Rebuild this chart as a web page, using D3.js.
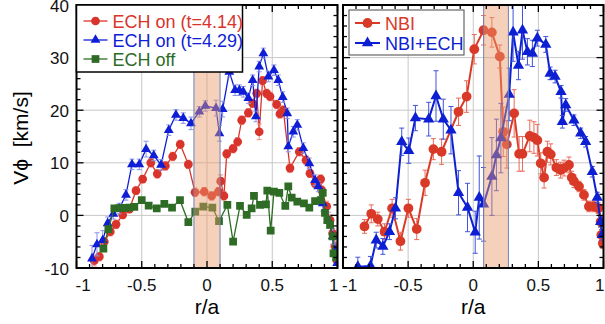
<html lang="en">
<head>
<meta charset="utf-8">
<script src="https://cdn.jsdelivr.net/npm/d3@7"></script>
<style type="text/css">
  body { margin: 0; background: #fff; }
  text { font-family: "Liberation Sans", Arial, Helvetica, sans-serif; }
  .grid { stroke: #c8c8c8; stroke-width: 1; }
  .frame { fill: none; stroke: #000; stroke-width: 2; }
  .tick { stroke: #000; stroke-width: 1.3; }
  .ticklabel { font-size: 17px; fill: #111; }
</style>
</head>
<body>
<div id="chart"></div>
<script type="text/javascript">

// ---- left panel : ECH on / off ----
var echOnAX = [-0.864,-0.825,-0.787,-0.741,-0.697,-0.646,-0.595,-0.544,-0.493,-0.431,-0.381,-0.319,-0.263,-0.205,-0.143,-0.092,-0.021,0.036,0.087,0.105,0.13,0.151,0.2,0.235,0.266,0.317,0.35,0.381,0.4,0.426,0.457,0.483,0.534,0.559,0.585,0.636,0.707,0.759,0.789,0.828,0.871,0.879,0.917,0.943,0.963,0.98,0.994];
var echOnAY = [-8.6,-7.85,-5.0,-3.1,-1.7,0.1,1.2,4.7,6.9,10.0,7.9,9.4,11.2,13.5,9.7,4.4,4.5,3.7,4.5,6.5,3.7,11.7,12.7,14.0,18.1,19.5,21.3,23.2,15.9,25.6,23.2,22.6,21.1,19.3,20.0,9.0,12.1,10.5,8.0,6.1,6.9,4.8,1.7,-0.9,-3.4,-5.9,-8.5];
var echOnAErr = [1.0,0.8,0.8,0.8,0.8,0.7,0.7,0.7,0.7,0.8,0.8,0.8,0.8,0.8,0.8,0.8,0.8,0.8,0.8,1.2,0.8,0.8,0.8,0.8,0.8,0.8,0.8,0.8,1.5,0.8,0.8,0.8,0.8,0.8,0.8,0.8,0.8,0.8,0.8,0.8,0.8,0.8,1.0,1.0,1.0,1.0,1.0];

var echOnBX = [-0.881,-0.843,-0.799,-0.761,-0.718,-0.672,-0.621,-0.575,-0.519,-0.467,-0.408,-0.352,-0.293,-0.238,-0.182,-0.123,-0.059,-0.013,0.069,0.095,0.12,0.171,0.215,0.248,0.278,0.317,0.35,0.375,0.4,0.432,0.47,0.513,0.546,0.58,0.615,0.623,0.661,0.692,0.738,0.784,0.828,0.853,0.887,0.93,0.963,0.98,0.998];
var echOnBY = [-8.2,-5.5,-4.7,-1.5,0.3,1.3,3.9,9.7,9.7,12.6,11.4,9.6,16.2,19.1,18.5,17.5,19.7,20.8,20.4,15.6,20.2,27.3,23.8,23.8,23.5,22.3,25.7,18.8,28.3,30.8,26.4,27.6,25.7,22.5,19.4,13.1,15.9,17.2,12.8,9.9,6.7,5.5,2.3,-0.9,-4.0,-6.6,-9.1];
var echOnBErr = [2.5,2.2,1.8,1.2,1.0,1.0,1.0,1.0,1.0,1.5,1.0,1.0,1.0,1.0,1.0,1.2,1.0,1.0,1.5,1.5,1.5,1.0,1.0,1.0,1.0,1.0,1.0,1.0,1.0,1.0,1.0,1.0,1.0,1.0,1.0,1.0,1.0,1.0,1.0,1.0,1.0,1.0,1.5,1.5,1.5,1.5,1.5];

var echOffX = [-0.794,-0.756,-0.71,-0.672,-0.634,-0.595,-0.557,-0.5,-0.447,-0.385,-0.327,-0.268,-0.207,-0.143,-0.09,-0.028,0.041,0.092,0.156,0.2,0.253,0.304,0.342,0.36,0.406,0.452,0.462,0.488,0.513,0.554,0.6,0.623,0.649,0.692,0.743,0.784,0.828,0.871,0.887,0.904,0.922,0.943,0.963,0.969,0.99];
var echOffY = [-6.3,-2.6,1.35,1.4,1.45,1.5,1.6,2.9,1.85,1.35,2.2,1.5,2.9,-1.3,0.7,1.65,1.5,-1.1,2.0,-5.0,1.8,0.1,1.35,3.7,2.0,2.1,4.7,-2.9,4.5,4.3,1.8,5.5,3.4,2.6,2.3,1.5,2.7,2.9,4.3,0.5,-0.9,-1.8,-4.0,-7.2,-8.0];

// ---- right panel : NBI / NBI+ECH ----
var nbiX = [-0.835,-0.783,-0.733,-0.681,-0.623,-0.559,-0.498,-0.434,-0.37,-0.306,-0.243,-0.113,-0.051,0.008,0.079,0.143,0.204,0.23,0.258,0.314,0.352,0.378,0.434,0.466,0.492,0.518,0.544,0.569,0.595,0.638,0.671,0.697,0.735,0.756,0.773,0.812,0.85,0.888,0.926,0.96,0.978,0.983,0.995];
var nbiY = [-2.1,0.3,-0.7,-3.1,1.35,-4.9,1.35,-2.6,6.2,12.6,12.1,19.7,22.6,31.6,35.2,34.8,30.2,15.9,13.5,19.4,11.7,11.7,15.1,14.8,14.3,9.9,7.2,12.1,11.6,9.1,8.6,9.0,9.6,7.2,6.5,5.5,3.9,1.7,1.7,1.35,-1.2,-3.7,-5.3];
var nbiErr = [1.3,1.7,1.3,1.5,1.7,1.7,1.7,2.0,2.4,2.0,2.4,2.6,3.0,2.8,2.8,2.8,2.2,4.7,4.5,4.5,3.3,3.3,3.0,3.0,3.0,2.0,2.0,2.0,2.0,1.5,1.5,1.5,1.5,1.2,1.2,1.0,1.0,1.0,1.0,1.0,1.0,1.0,1.0];

var nbiEchX = [-0.886,-0.789,-0.745,-0.694,-0.643,-0.597,-0.549,-0.495,-0.444,-0.342,-0.286,-0.23,-0.171,-0.113,-0.044,0.015,0.046,0.079,0.143,0.178,0.212,0.276,0.306,0.347,0.378,0.416,0.454,0.492,0.557,0.59,0.628,0.674,0.684,0.71,0.773,0.825,0.863,0.914,0.952,0.978,0.99];
var nbiEchY = [-9.75,-9.6,-4.7,-5.9,-3.1,1.35,14.0,12.3,18.5,18.3,22.7,18.3,16.2,4.3,1.5,-3.2,3.4,2.1,7.4,11.5,14.7,23.0,34.8,28.5,35.2,31.1,30.8,33.7,32.5,27.0,26.4,23.5,17.8,21.0,18.1,15.6,14.0,8.3,3.4,-1.2,-3.7];
var nbiEchErr = [1.8,1.8,1.5,1.5,1.5,2.0,2.6,2.4,2.4,3.2,4.8,3.8,4.5,4.2,4.6,4.0,7.9,7.0,7.4,6.8,6.6,5.0,5.5,2.7,5.5,2.5,2.5,1.5,1.5,1.2,1.2,1.2,1.2,1.2,1.0,1.0,1.0,1.0,1.0,1.0,1.0];

var xTicks = [-1, -0.5, 0, 0.5, 1];
var xTickLabels = ["-1", "-0.5", "0", "0.5", "1"];
var yTicks = [-10, 0, 10, 20, 30, 40];

var width = 605, height = 324;
var svg = d3.select("#chart").append("svg")
    .attr("width", width)
    .attr("height", height);

var y = d3.scaleLinear().domain([-10, 40]).range([268, 5]);

function zip(xs, ys, es) {
  return xs.map(function(d, i) { return {x: d, y: ys[i], e: es ? es[i] : 0}; });
}

function drawPanel(opt) {
  var x = d3.scaleLinear().domain([-1, 1]).range(opt.range);
  var x0 = opt.range[0], x1 = opt.range[1];
  var g = svg.append("g");

  g.append("clipPath").attr("id", opt.id + "clip")
    .append("rect").attr("x", x0).attr("y", 5).attr("width", x1 - x0).attr("height", 263);

  // grid
  g.selectAll(".gx").data([-0.5, 0, 0.5]).enter().append("line")
    .attr("class", "grid")
    .attr("x1", x).attr("x2", x).attr("y1", 5).attr("y2", 268);
  g.selectAll(".gy").data([0, 10, 20, 30]).enter().append("line")
    .attr("class", "grid")
    .attr("x1", x0).attr("x2", x1).attr("y1", y).attr("y2", y);

  var plot = g.append("g").attr("clip-path", "url(#" + opt.id + "clip)");

  var line = d3.line().x(function(d) { return x(d.x); }).y(function(d) { return y(d.y); });

  opt.series.forEach(function(s) {
    var data = s.data;
    plot.append("path").datum(data)
      .attr("d", line)
      .style("fill", "none")
      .style("stroke", s.color)
      .style("stroke-width", s.lw);

    if (s.err) {
      var eb = plot.append("g").style("stroke", s.errColor).style("stroke-width", 1);
      data.forEach(function(d) {
        var cx = x(d.x), ya = y(d.y + d.e), yb = y(d.y - d.e);
        eb.append("line").attr("x1", cx).attr("x2", cx).attr("y1", ya).attr("y2", yb);
        eb.append("line").attr("x1", cx - 2.5).attr("x2", cx + 2.5).attr("y1", ya).attr("y2", ya);
        eb.append("line").attr("x1", cx - 2.5).attr("x2", cx + 2.5).attr("y1", yb).attr("y2", yb);
      });
    }

    plot.selectAll(null).data(data).enter().append("path")
      .attr("transform", function(d) { return "translate(" + x(d.x) + "," + y(d.y) + ")"; })
      .attr("d", d3.symbol().type(s.symbol).size(s.size))
      .style("fill", s.color);
  });

  // heating region, drawn on top
  var sx0 = x(opt.shade[0]), sx1 = x(opt.shade[1]);
  g.append("rect")
    .attr("x", sx0).attr("y", 5).attr("width", sx1 - sx0).attr("height", 263)
    .style("fill", "#e89a68").style("opacity", 0.45);
  g.selectAll(".sh").data([sx0, sx1]).enter().append("line")
    .attr("x1", function(d) { return d; }).attr("x2", function(d) { return d; })
    .attr("y1", 5).attr("y2", 268)
    .style("stroke", "#6f80b8").style("stroke-width", 1);

  // ticks, inward on all four sides
  var xMinor = d3.range(-10, 11).map(function(d) { return d / 10; });
  var yMinor = d3.range(-10, 41, 2);
  xMinor.forEach(function(t) {
    var len = (Math.abs(t * 2 - Math.round(t * 2)) < 1e-6) ? 7 : 4;
    g.append("line").attr("class", "tick").attr("x1", x(t)).attr("x2", x(t)).attr("y1", 268).attr("y2", 268 - len);
    g.append("line").attr("class", "tick").attr("x1", x(t)).attr("x2", x(t)).attr("y1", 5).attr("y2", 5 + len);
  });
  yMinor.forEach(function(t) {
    var len = (t % 10 == 0) ? 7 : 4;
    g.append("line").attr("class", "tick").attr("x1", x0).attr("x2", x0 + len).attr("y1", y(t)).attr("y2", y(t));
    g.append("line").attr("class", "tick").attr("x1", x1).attr("x2", x1 - len).attr("y1", y(t)).attr("y2", y(t));
  });

  g.append("rect").attr("class", "frame")
    .attr("x", x0).attr("y", 5).attr("width", x1 - x0).attr("height", 263);

  // x tick labels
  g.selectAll(".xl").data(xTicks).enter().append("text")
    .attr("class", "ticklabel")
    .attr("x", function(d, i) { return i == 0 ? x0 - 1 : (i == xTicks.length - 1 ? x1 + 1 : x(d)); })
    .attr("y", 291)
    .style("text-anchor", function(d, i) { return i == 0 ? "start" : (i == xTicks.length - 1 ? "end" : "middle"); })
    .text(function(d, i) { return xTickLabels[i]; });

  g.append("text")
    .attr("x", x(0)).attr("y", 314)
    .style("text-anchor", "middle").style("font-size", "21px")
    .text("r/a");

  // legend
  var lg = g.append("g");
  lg.append("rect")
    .attr("x", opt.legend.x).attr("y", opt.legend.y)
    .attr("width", opt.legend.w).attr("height", opt.legend.h)
    .style("fill", "#fff").style("stroke", opt.legend.stroke).style("stroke-width", opt.legend.sw);
  opt.series.forEach(function(s, i) {
    var ly = opt.legend.y + opt.legend.row0 + i * opt.legend.dy;
    var lx = opt.legend.x + opt.legend.pad;
    lg.append("line").attr("x1", lx).attr("x2", lx + opt.legend.len)
      .attr("y1", ly).attr("y2", ly)
      .style("stroke", s.color).style("stroke-width", s.lw);
    lg.append("path")
      .attr("transform", "translate(" + (lx + opt.legend.len / 2) + "," + ly + ")")
      .attr("d", d3.symbol().type(s.symbol).size(s.size))
      .style("fill", s.color);
    lg.append("text")
      .attr("x", lx + opt.legend.len + 5).attr("y", ly + 6.5)
      .style("font-size", "18px").style("fill", s.color)
      .text(s.name);
  });
  return x;
}

drawPanel({
  id: "left",
  range: [76.5, 337.5],
  shade: [-0.1, 0.1],
  legend: {x: 76.5, y: 5, w: 166, h: 67, stroke: "#000", sw: 1.5, pad: 7, len: 24, row0: 16, dy: 19},
  series: [
    {name: "ECH on (t=4.14)", data: zip(echOnAX, echOnAY, echOnAErr), color: "#d9342b", errColor: "#ee8a80", lw: 1.3, symbol: d3.symbolCircle, size: 60, err: true},
    {name: "ECH on (t=4.29)", data: zip(echOnBX, echOnBY, echOnBErr), color: "#0f1ed6", errColor: "#8a94e6", lw: 1.3, symbol: d3.symbolTriangle, size: 42, err: true},
    {name: "ECH off", data: zip(echOffX, echOffY), color: "#2e6b25", lw: 1.3, symbol: d3.symbolSquare, size: 60, err: false}
  ]
});

drawPanel({
  id: "right",
  range: [343, 603.5],
  shade: [0.08, 0.27],
  legend: {x: 349, y: 10, w: 115, h: 45, stroke: "#666", sw: 1.2, pad: 6, len: 25, row0: 13, dy: 20},
  series: [
    {name: "NBI", data: zip(nbiX, nbiY, nbiErr), color: "#d93a28", errColor: "#ea6a58", lw: 2, symbol: d3.symbolCircle, size: 75, err: true},
    {name: "NBI+ECH", data: zip(nbiEchX, nbiEchY, nbiEchErr), color: "#0d1fd2", errColor: "#3f52dc", lw: 2, symbol: d3.symbolTriangle, size: 55, err: true}
  ]
});

// y tick labels (left panel only)
svg.selectAll(".yl").data(yTicks).enter().append("text")
  .attr("class", "ticklabel")
  .attr("x", 69)
  .attr("y", function(d) { return y(d) + 6.5; })
  .style("text-anchor", "end")
  .text(function(d) { return d; });

svg.append("text")
  .attr("transform", "translate(28,138) rotate(-90)")
  .style("text-anchor", "middle").style("font-size", "21px")
  .text("V\u03d5\u00a0\u00a0[km/s]");

</script>
</body>
</html>
